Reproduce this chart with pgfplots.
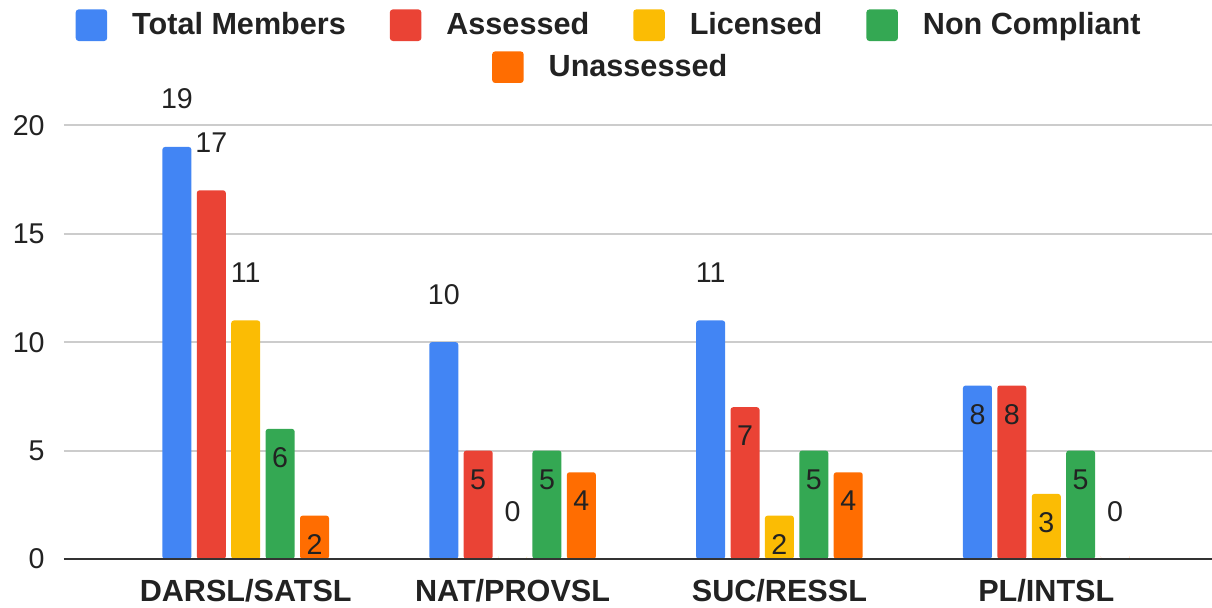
\documentclass[border=0pt]{standalone}
\usepackage{fontspec}
\setmainfont{Liberation Sans}
\usepackage{pgfplots}
\pgfplotsset{compat=1.18}

\definecolor{gBlue}{HTML}{4285F4}
\definecolor{gRed}{HTML}{EA4335}
\definecolor{gYellow}{HTML}{FBBC04}
\definecolor{gGreen}{HTML}{34A853}
\definecolor{gOrange}{HTML}{FF6D01}
\definecolor{txt}{HTML}{222222}
\definecolor{gridc}{HTML}{CCCCCC}
\definecolor{zeroc}{HTML}{333333}

\newcommand\numfont{\fontsize{14.3}{17}\selectfont}
\newcommand\boldfont{\fontsize{15.3}{18}\selectfont\bfseries}

\pgfplotsset{
  sq legend/.style={
    legend image code/.code={\fill[##1, draw=none, rounded corners=1.5pt] (0pt,-7.9pt) rectangle (15.75pt,7.9pt);},
    legend style={draw=none, fill=none, inner sep=0pt, font=\boldfont, text=txt,
      nodes={inner sep=0pt, text depth=0.15em},
      /tikz/every odd column/.style={column sep=12.5pt},
      /tikz/every even column/.style={column sep=22pt}},
    legend cell align=left,
  },
  % label above the bar / inside the top of the bar
  up/.style={every node near coord/.append style={anchor=base, yshift=19pt}},
  dn/.style={every node near coord/.append style={anchor=base, yshift=-19.3pt}},
  bars/.style={fill=#1, draw=none, rounded corners=1.3pt, forget plot},
}

\begin{document}
\begin{tikzpicture}
\path[use as bounding box] (-32pt,-24pt) rectangle (574pt,279.5pt);
\begin{axis}[
  at={(0,0)}, anchor=south west,
  scale only axis, width=574pt, height=216.85pt,
  xmin=-0.681, xmax=3.621, ymin=0, ymax=20,
  ybar, bar width=0.1087,
  axis line style={draw=none},
  major tick length=0pt,
  ytick={0,5,10,15,20},
  ymajorgrids, grid style={line width=1pt, gridc},
  xtick={0,1,2,3},
  xticklabels={DARSL/SATSL,NAT/PROVSL,SUC/RESSL,PL/INTSL},
  xticklabel style={font=\boldfont, text=txt, anchor=base, yshift=-21pt},
  yticklabel style={font=\numfont, text=txt, inner sep=0pt, anchor=east, xshift=-9.5pt},
  /pgf/number format/assume math mode=true,
  nodes near coords,
  nodes near coords style={font=\numfont, text=txt},
  sq legend, legend columns=4,
  legend style={at={(0.00984,1.2308)}, anchor=west},
]
% Total Members
\addplot[bars=gBlue, bar shift=-0.2578, up] coordinates {(0,19) (1,10) (2,11)};
\addplot[bars=gBlue, bar shift=-0.2578, dn] coordinates {(3,8)};
% Assessed
\addplot[bars=gRed, bar shift=-0.1289, up] coordinates {(0,17)};
\addplot[bars=gRed, bar shift=-0.1289, dn] coordinates {(1,5) (2,7) (3,8)};
% Licensed
\addplot[bars=gYellow, bar shift=0, up] coordinates {(0,11) (1,0)};
\addplot[bars=gYellow, bar shift=0, dn] coordinates {(2,2) (3,3)};
% Non Compliant
\addplot[bars=gGreen, bar shift=0.1289, dn] coordinates {(0,6) (1,5) (2,5) (3,5)};
% Unassessed
\addplot[bars=gOrange, bar shift=0.2578, dn] coordinates {(0,2) (1,4) (2,4)};
\addplot[bars=gOrange, bar shift=0.2578, up] coordinates {(3,0)};

\addlegendimage{fill=gBlue}\addlegendentry{Total Members}
\addlegendimage{fill=gRed}\addlegendentry{Assessed}
\addlegendimage{fill=gYellow}\addlegendentry{Licensed}
\addlegendimage{fill=gGreen}\addlegendentry{Non Compliant}

\draw[line width=1.1pt, zeroc] (rel axis cs:0,0) -- (rel axis cs:1,0);
\end{axis}
\begin{axis}[
  at={(0,0)}, anchor=south west,
  scale only axis, width=574pt, height=216.85pt,
  hide axis, xmin=0, xmax=1, ymin=0, ymax=1,
  sq legend,
  legend style={at={(0.3726,1.134)}, anchor=west},
]
\addlegendimage{fill=gOrange}\addlegendentry{Unassessed}
\end{axis}
\end{tikzpicture}
\end{document}
